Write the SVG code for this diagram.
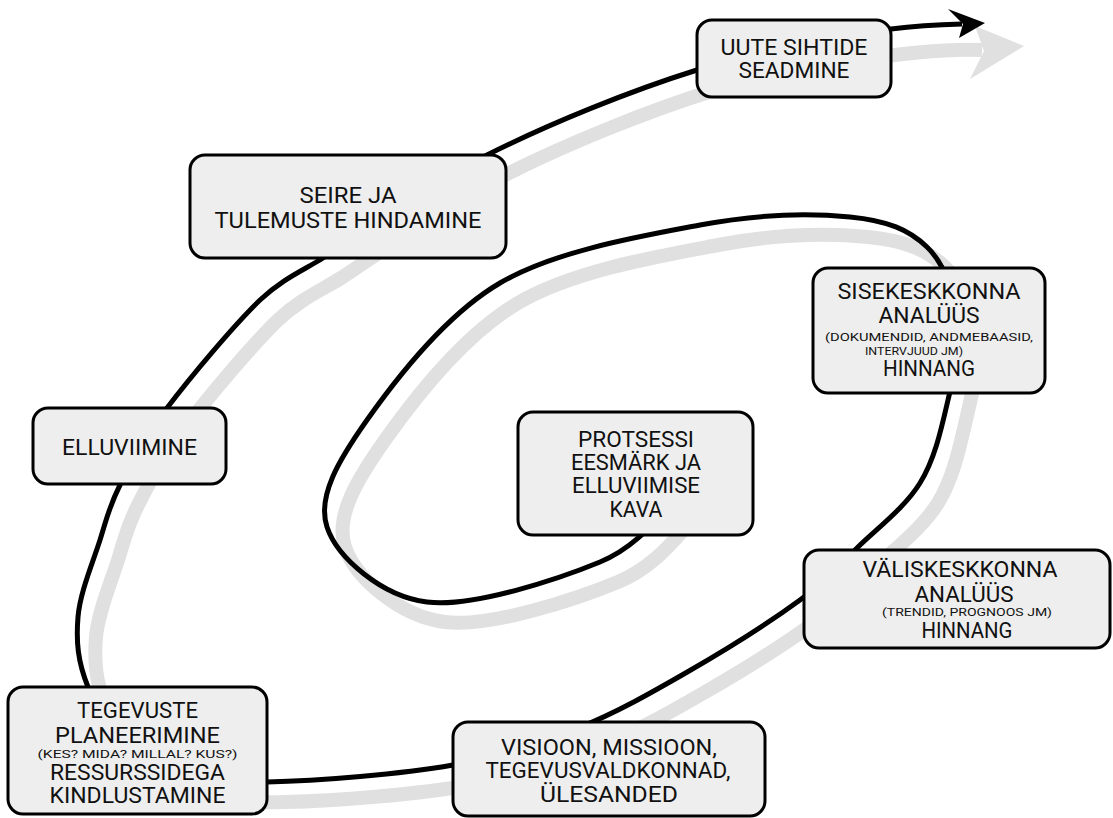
<svg xmlns="http://www.w3.org/2000/svg" width="1113" height="818" viewBox="0 0 1113 818">
<style>
.box{fill:#eeeeee;stroke:#000;stroke-width:3}
.t{font-family:Roboto,"DejaVu Sans",sans-serif;font-size:22px;font-weight:400;fill:#111;text-anchor:middle}
.s{font-family:Roboto,"DejaVu Sans",sans-serif;font-size:11.5px;font-weight:400;fill:#111;text-anchor:middle}
.sh{fill:none;stroke:#e0e0e0;stroke-width:14}
.ln{fill:none;stroke:#000;stroke-width:5}
</style>
<rect width="1113" height="818" fill="#fff"/>
<g id="connectors">
<path class="sh" transform="translate(18,20)" d="M675,500 C662.5,510.3 641.3,545 600,562 C558.7,579 472.5,607.8 427,602 C381.5,596.2 337,557.3 327,527 C317,496.7 338.2,460.7 367,420 C395.8,379.3 444.5,315.5 500,283 C555.5,250.5 641.7,236 700,225 C758.3,214 812.2,213.3 850,217 C887.8,220.7 909,229.8 927,247 C945,264.2 954.5,294.5 958,320 C961.5,345.5 954.3,372.8 948,400 C941.7,427.2 935.2,458.3 920,483 C904.8,507.7 877,528.5 857,548 C837,567.5 828,579.5 800,600 C772,620.5 726,649.7 689,671 C652,692.3 617.3,712.3 578,728 C538.7,743.7 504.8,756 453,765 C401.2,774 319.2,781.2 267,782 C214.8,782.8 169.8,785.8 140,770 C110.2,754.2 98.3,712.5 88,687 C77.7,661.5 76,641.5 78,617 C80,592.5 93,562 100,540 C107,518 108.8,507 120,485 C131.2,463 143.7,438.8 167,408 C190.3,377.2 234,325 260,300 C282,279 304,270 323,258 C360.8,233.8 424.7,186.3 487,155 C549.3,123.7 629.7,91 697,70 C764,48 907,27 964,30"/>
<polygon fill="#e0e0e0" points="975,26 1024,46 970,79 984,51"/>
<path class="ln" d="M675,500 C662.5,510.3 641.3,545 600,562 C558.7,579 472.5,607.8 427,602 C381.5,596.2 337,557.3 327,527 C317,496.7 338.2,460.7 367,420 C395.8,379.3 444.5,315.5 500,283 C555.5,250.5 641.7,236 700,225 C758.3,214 812.2,213.3 850,217 C887.8,220.7 909,229.8 927,247 C945,264.2 954.5,294.5 958,320 C961.5,345.5 954.3,372.8 948,400 C941.7,427.2 935.2,458.3 920,483 C904.8,507.7 877,528.5 857,548 C837,567.5 828,579.5 800,600 C772,620.5 726,649.7 689,671 C652,692.3 617.3,712.3 578,728 C538.7,743.7 504.8,756 453,765 C401.2,774 319.2,781.2 267,782 C214.8,782.8 169.8,785.8 140,770 C110.2,754.2 98.3,712.5 88,687 C77.7,661.5 76,641.5 78,617 C80,592.5 93,562 100,540 C107,518 108.8,507 120,485 C131.2,463 143.7,438.8 167,408 C190.3,377.2 234,325 260,300 C282,279 304,270 323,258 C360.8,233.8 424.7,186.3 487,155 C549.3,123.7 629.7,91 697,70 C764.3,49 846.8,36.7 891,29 C915,26 945,24.5 962,24"/>
<polygon fill="#000" points="948,9 985,23 959,38 963,24"/>
</g>
<g id="n-uute">
<rect class="box" x="697" y="20" width="194" height="77" rx="15"/>
<text class="t" x="794" y="55" textLength="147" lengthAdjust="spacingAndGlyphs">UUTE SIHTIDE</text>
<text class="t" x="794" y="78" textLength="111" lengthAdjust="spacingAndGlyphs">SEADMINE</text>
</g>
<g id="n-seire">
<rect class="box" x="190" y="155" width="316" height="103" rx="15"/>
<text class="t" x="348" y="203" textLength="97" lengthAdjust="spacingAndGlyphs">SEIRE JA</text>
<text class="t" x="348" y="228" textLength="267" lengthAdjust="spacingAndGlyphs">TULEMUSTE HINDAMINE</text>
</g>
<g id="n-elluviimine">
<rect class="box" x="33" y="408" width="193" height="76" rx="15"/>
<text class="t" x="129.5" y="455" textLength="135" lengthAdjust="spacingAndGlyphs">ELLUVIIMINE</text>
</g>
<g id="n-tegevuste">
<rect class="box" x="8" y="687" width="259" height="127" rx="15"/>
<text class="t" x="137.5" y="718" textLength="121" lengthAdjust="spacingAndGlyphs">TEGEVUSTE</text>
<text class="t" x="137.5" y="743" textLength="165" lengthAdjust="spacingAndGlyphs">PLANEERIMINE</text>
<text class="s" x="137.5" y="758" textLength="200" lengthAdjust="spacingAndGlyphs">(KES? MIDA? MILLAL? KUS?)</text>
<text class="t" x="137.5" y="780" textLength="175" lengthAdjust="spacingAndGlyphs">RESSURSSIDEGA</text>
<text class="t" x="137.5" y="803" textLength="176" lengthAdjust="spacingAndGlyphs">KINDLUSTAMINE</text>
</g>
<g id="n-visioon">
<rect class="box" x="453" y="722" width="312" height="94" rx="15"/>
<text class="t" x="609" y="755" textLength="216" lengthAdjust="spacingAndGlyphs">VISIOON, MISSIOON,</text>
<text class="t" x="608" y="778" textLength="245" lengthAdjust="spacingAndGlyphs">TEGEVUSVALDKONNAD,</text>
<text class="t" x="609" y="802" textLength="138" lengthAdjust="spacingAndGlyphs">ÜLESANDED</text>
</g>
<g id="n-protsessi">
<rect class="box" x="518" y="412" width="235" height="123" rx="15"/>
<text class="t" x="636" y="447" textLength="116" lengthAdjust="spacingAndGlyphs">PROTSESSI</text>
<text class="t" x="636" y="470" textLength="130" lengthAdjust="spacingAndGlyphs">EESMÄRK JA</text>
<text class="t" x="636" y="493" textLength="128" lengthAdjust="spacingAndGlyphs">ELLUVIIMISE</text>
<text class="t" x="636" y="517" textLength="53" lengthAdjust="spacingAndGlyphs">KAVA</text>
</g>
<g id="n-sisekeskkonna">
<rect class="box" x="813" y="268" width="232" height="125" rx="15"/>
<text class="t" x="929" y="299" textLength="183" lengthAdjust="spacingAndGlyphs">SISEKESKKONNA</text>
<text class="t" x="929" y="323" textLength="101" lengthAdjust="spacingAndGlyphs">ANALÜÜS</text>
<text class="s" x="929" y="341" font-size="11" textLength="208" lengthAdjust="spacingAndGlyphs">(DOKUMENDID, ANDMEBAASID,</text>
<text class="s" x="914" y="355" font-size="11" textLength="98" lengthAdjust="spacingAndGlyphs">INTERVJUUD JM)</text>
<text class="t" x="929" y="376" textLength="92" lengthAdjust="spacingAndGlyphs">HINNANG</text>
</g>
<g id="n-valiskeskkonna">
<rect class="box" x="804" y="550" width="306" height="98" rx="15"/>
<text class="t" x="960" y="577" textLength="195" lengthAdjust="spacingAndGlyphs">VÄLISKESKKONNA</text>
<text class="t" x="964" y="602" textLength="99" lengthAdjust="spacingAndGlyphs">ANALÜÜS</text>
<text class="s" x="967" y="616" textLength="170" lengthAdjust="spacingAndGlyphs">(TRENDID, PROGNOOS JM)</text>
<text class="t" x="967" y="638" textLength="91" lengthAdjust="spacingAndGlyphs">HINNANG</text>
</g>
</svg>
